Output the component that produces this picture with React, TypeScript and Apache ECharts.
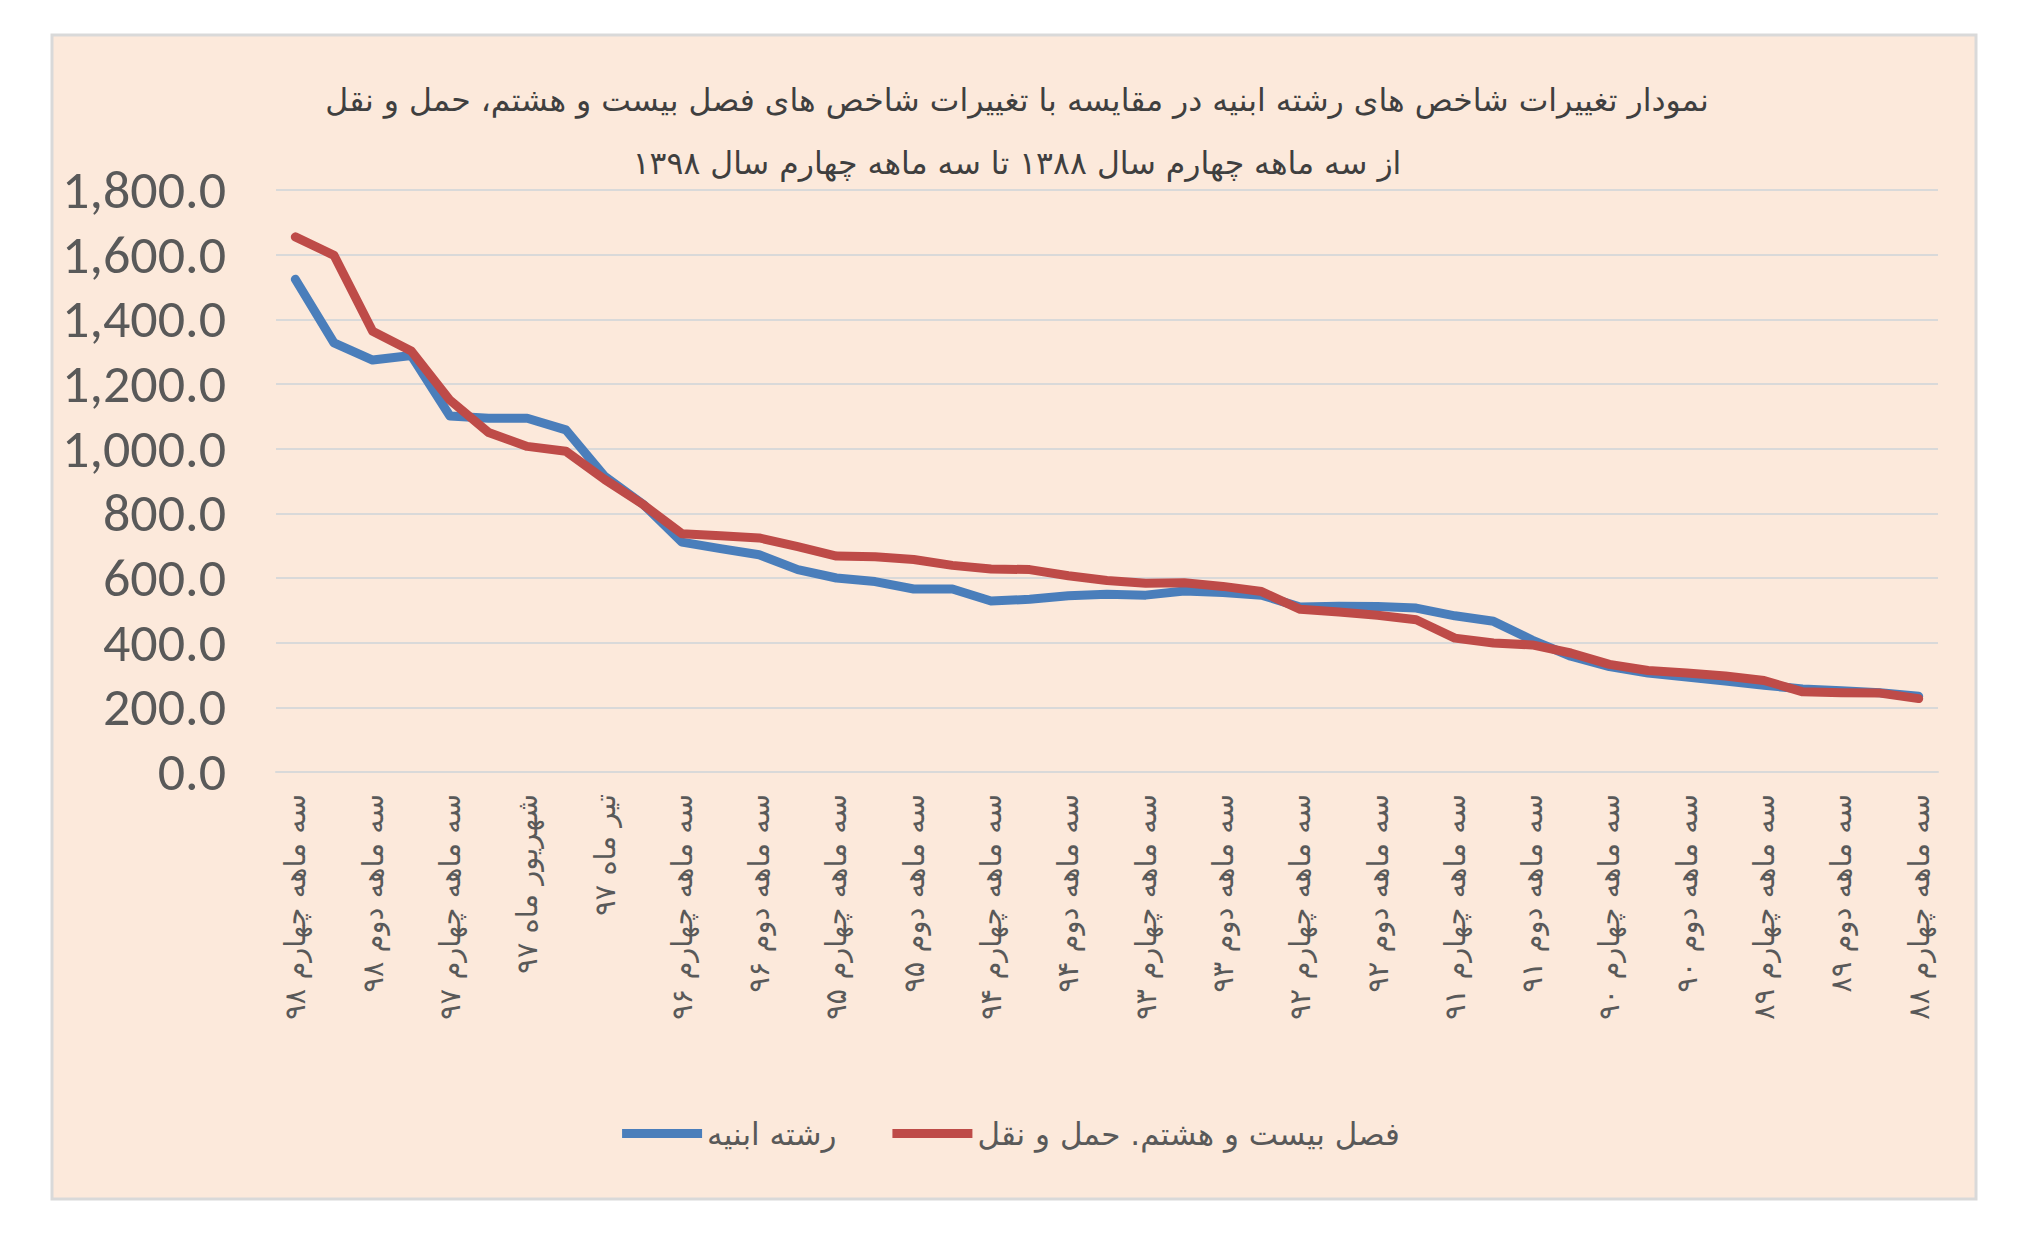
import React, { useEffect, useRef } from "react";
import * as echarts from "echarts";

const titleLine1 =
  "نمودار تغییرات شاخص های رشته ابنیه در مقایسه با تغییرات شاخص های فصل بیست و هشتم، حمل و نقل";
const titleLine2 = "از سه ماهه چهارم سال ۱۳۸۸ تا سه ماهه چهارم سال ۱۳۹۸";

const seriesNames = ["رشته ابنیه", "فصل بیست و هشتم. حمل و نقل"];

const categories = [
  "سه ماهه چهارم ۹۸",
  "سه ماهه سوم ۹۸",
  "سه ماهه دوم ۹۸",
  "سه ماهه اول ۹۸",
  "سه ماهه چهارم ۹۷",
  "سه ماهه سوم ۹۷",
  "شهریور ماه ۹۷",
  "مرداد ماه ۹۷",
  "تیر ماه ۹۷",
  "سه ماهه اول ۹۷",
  "سه ماهه چهارم ۹۶",
  "سه ماهه سوم ۹۶",
  "سه ماهه دوم ۹۶",
  "سه ماهه اول ۹۶",
  "سه ماهه چهارم ۹۵",
  "سه ماهه سوم ۹۵",
  "سه ماهه دوم ۹۵",
  "سه ماهه اول ۹۵",
  "سه ماهه چهارم ۹۴",
  "سه ماهه سوم ۹۴",
  "سه ماهه دوم ۹۴",
  "سه ماهه اول ۹۴",
  "سه ماهه چهارم ۹۳",
  "سه ماهه سوم ۹۳",
  "سه ماهه دوم ۹۳",
  "سه ماهه اول ۹۳",
  "سه ماهه چهارم ۹۲",
  "سه ماهه سوم ۹۲",
  "سه ماهه دوم ۹۲",
  "سه ماهه اول ۹۲",
  "سه ماهه چهارم ۹۱",
  "سه ماهه سوم ۹۱",
  "سه ماهه دوم ۹۱",
  "سه ماهه اول ۹۱",
  "سه ماهه چهارم ۹۰",
  "سه ماهه سوم ۹۰",
  "سه ماهه دوم ۹۰",
  "سه ماهه اول ۹۰",
  "سه ماهه چهارم ۸۹",
  "سه ماهه سوم ۸۹",
  "سه ماهه دوم ۸۹",
  "سه ماهه اول ۸۹",
  "سه ماهه چهارم ۸۸",
];

const buildingValues = [
  1524, 1327, 1274, 1288, 1101, 1094, 1094, 1058, 915, 828,
  711, 691, 672, 626, 600, 589, 566, 566, 529, 534,
  545, 550, 547, 560, 555, 547, 510, 513, 512, 507,
  483, 466, 408, 358, 326, 306, 294, 281, 268, 257,
  251, 245, 234,
];

const transportValues = [
  1655, 1598, 1363, 1302, 1150, 1050, 1007, 992, 905, 827,
  737, 731, 724, 697, 668, 666, 657, 639, 628, 626,
  607, 592, 584, 585, 574, 558, 503, 495, 485, 471,
  414, 399, 393, 368, 333, 314, 306, 297, 283, 248,
  245, 244, 227,
];

const yMin = 0;
const yMax = 1800;
const yInterval = 200;

const ARABIC_FONT = "'DejaVu Sans', 'Noto Sans', sans-serif";
const NUM_FONT = "Carlito, Lato, 'Open Sans', sans-serif";

export default function App() {
  const ref = useRef<HTMLDivElement>(null);

  useEffect(() => {
    document.body.style.margin = "0";
    if (!ref.current) return;
    const chart = echarts.init(ref.current, undefined, { renderer: "svg" });
    chart.setOption({
      animation: false,
      backgroundColor: "#ffffff",
      graphic: [
        {
          type: "rect",
          z: -10,
          silent: true,
          shape: { x: 52, y: 35, width: 1924, height: 1164 },
          style: { fill: "#FCE9DB", stroke: "#D9D9D9", lineWidth: 3 },
        },
        {
          type: "text",
          x: 1017,
          y: 100,
          style: {
            text: titleLine1,
            fontFamily: ARABIC_FONT,
            fontSize: 31.5,
            fill: "#3F3F3F",
            textAlign: "center",
            textVerticalAlign: "middle",
          },
        },
        {
          type: "text",
          x: 1017,
          y: 163,
          style: {
            text: titleLine2,
            fontFamily: ARABIC_FONT,
            fontSize: 31.5,
            fill: "#3F3F3F",
            textAlign: "center",
            textVerticalAlign: "middle",
          },
        },
      ],
      legend: {
        data: seriesNames,
        left: "center",
        top: 1113,
        icon: "rect",
        itemWidth: 80,
        itemHeight: 9,
        itemGap: 56,
        textStyle: { fontFamily: ARABIC_FONT, fontSize: 31, color: "#595959" },
      },
      grid: { left: 276, right: 84, top: 190, bottom: 472, containLabel: false },
      xAxis: {
        type: "category",
        data: categories,
        boundaryGap: true,
        axisLine: { show: true, lineStyle: { color: "#D9D9D9", width: 2 } },
        axisTick: { show: false },
        axisLabel: {
          interval: 1,
          rotate: 90,
          margin: 22,
          fontFamily: ARABIC_FONT,
          fontSize: 29,
          color: "#595959",
        },
      },
      yAxis: {
        type: "value",
        min: yMin,
        max: yMax,
        interval: yInterval,
        axisLine: { show: false },
        axisTick: { show: false },
        splitLine: { lineStyle: { color: "#D9D9D9", width: 2 } },
        axisLabel: {
          margin: 50,
          fontFamily: NUM_FONT,
          fontSize: 54,
          color: "#595959",
          formatter: (v: number) =>
            v.toLocaleString("en-US", { minimumFractionDigits: 1, maximumFractionDigits: 1 }),
        },
      },
      series: [
        {
          name: seriesNames[0],
          type: "line",
          data: buildingValues,
          symbol: "none",
          color: "#4A7EBB",
          lineStyle: { width: 9, color: "#4A7EBB", cap: "round", join: "round" },
        },
        {
          name: seriesNames[1],
          type: "line",
          data: transportValues,
          symbol: "none",
          color: "#BE4B48",
          lineStyle: { width: 9, color: "#BE4B48", cap: "round", join: "round" },
        },
      ],
    });
    return () => chart.dispose();
  }, []);

  return <div ref={ref} style={{ width: 2022, height: 1244 }} />;
}
